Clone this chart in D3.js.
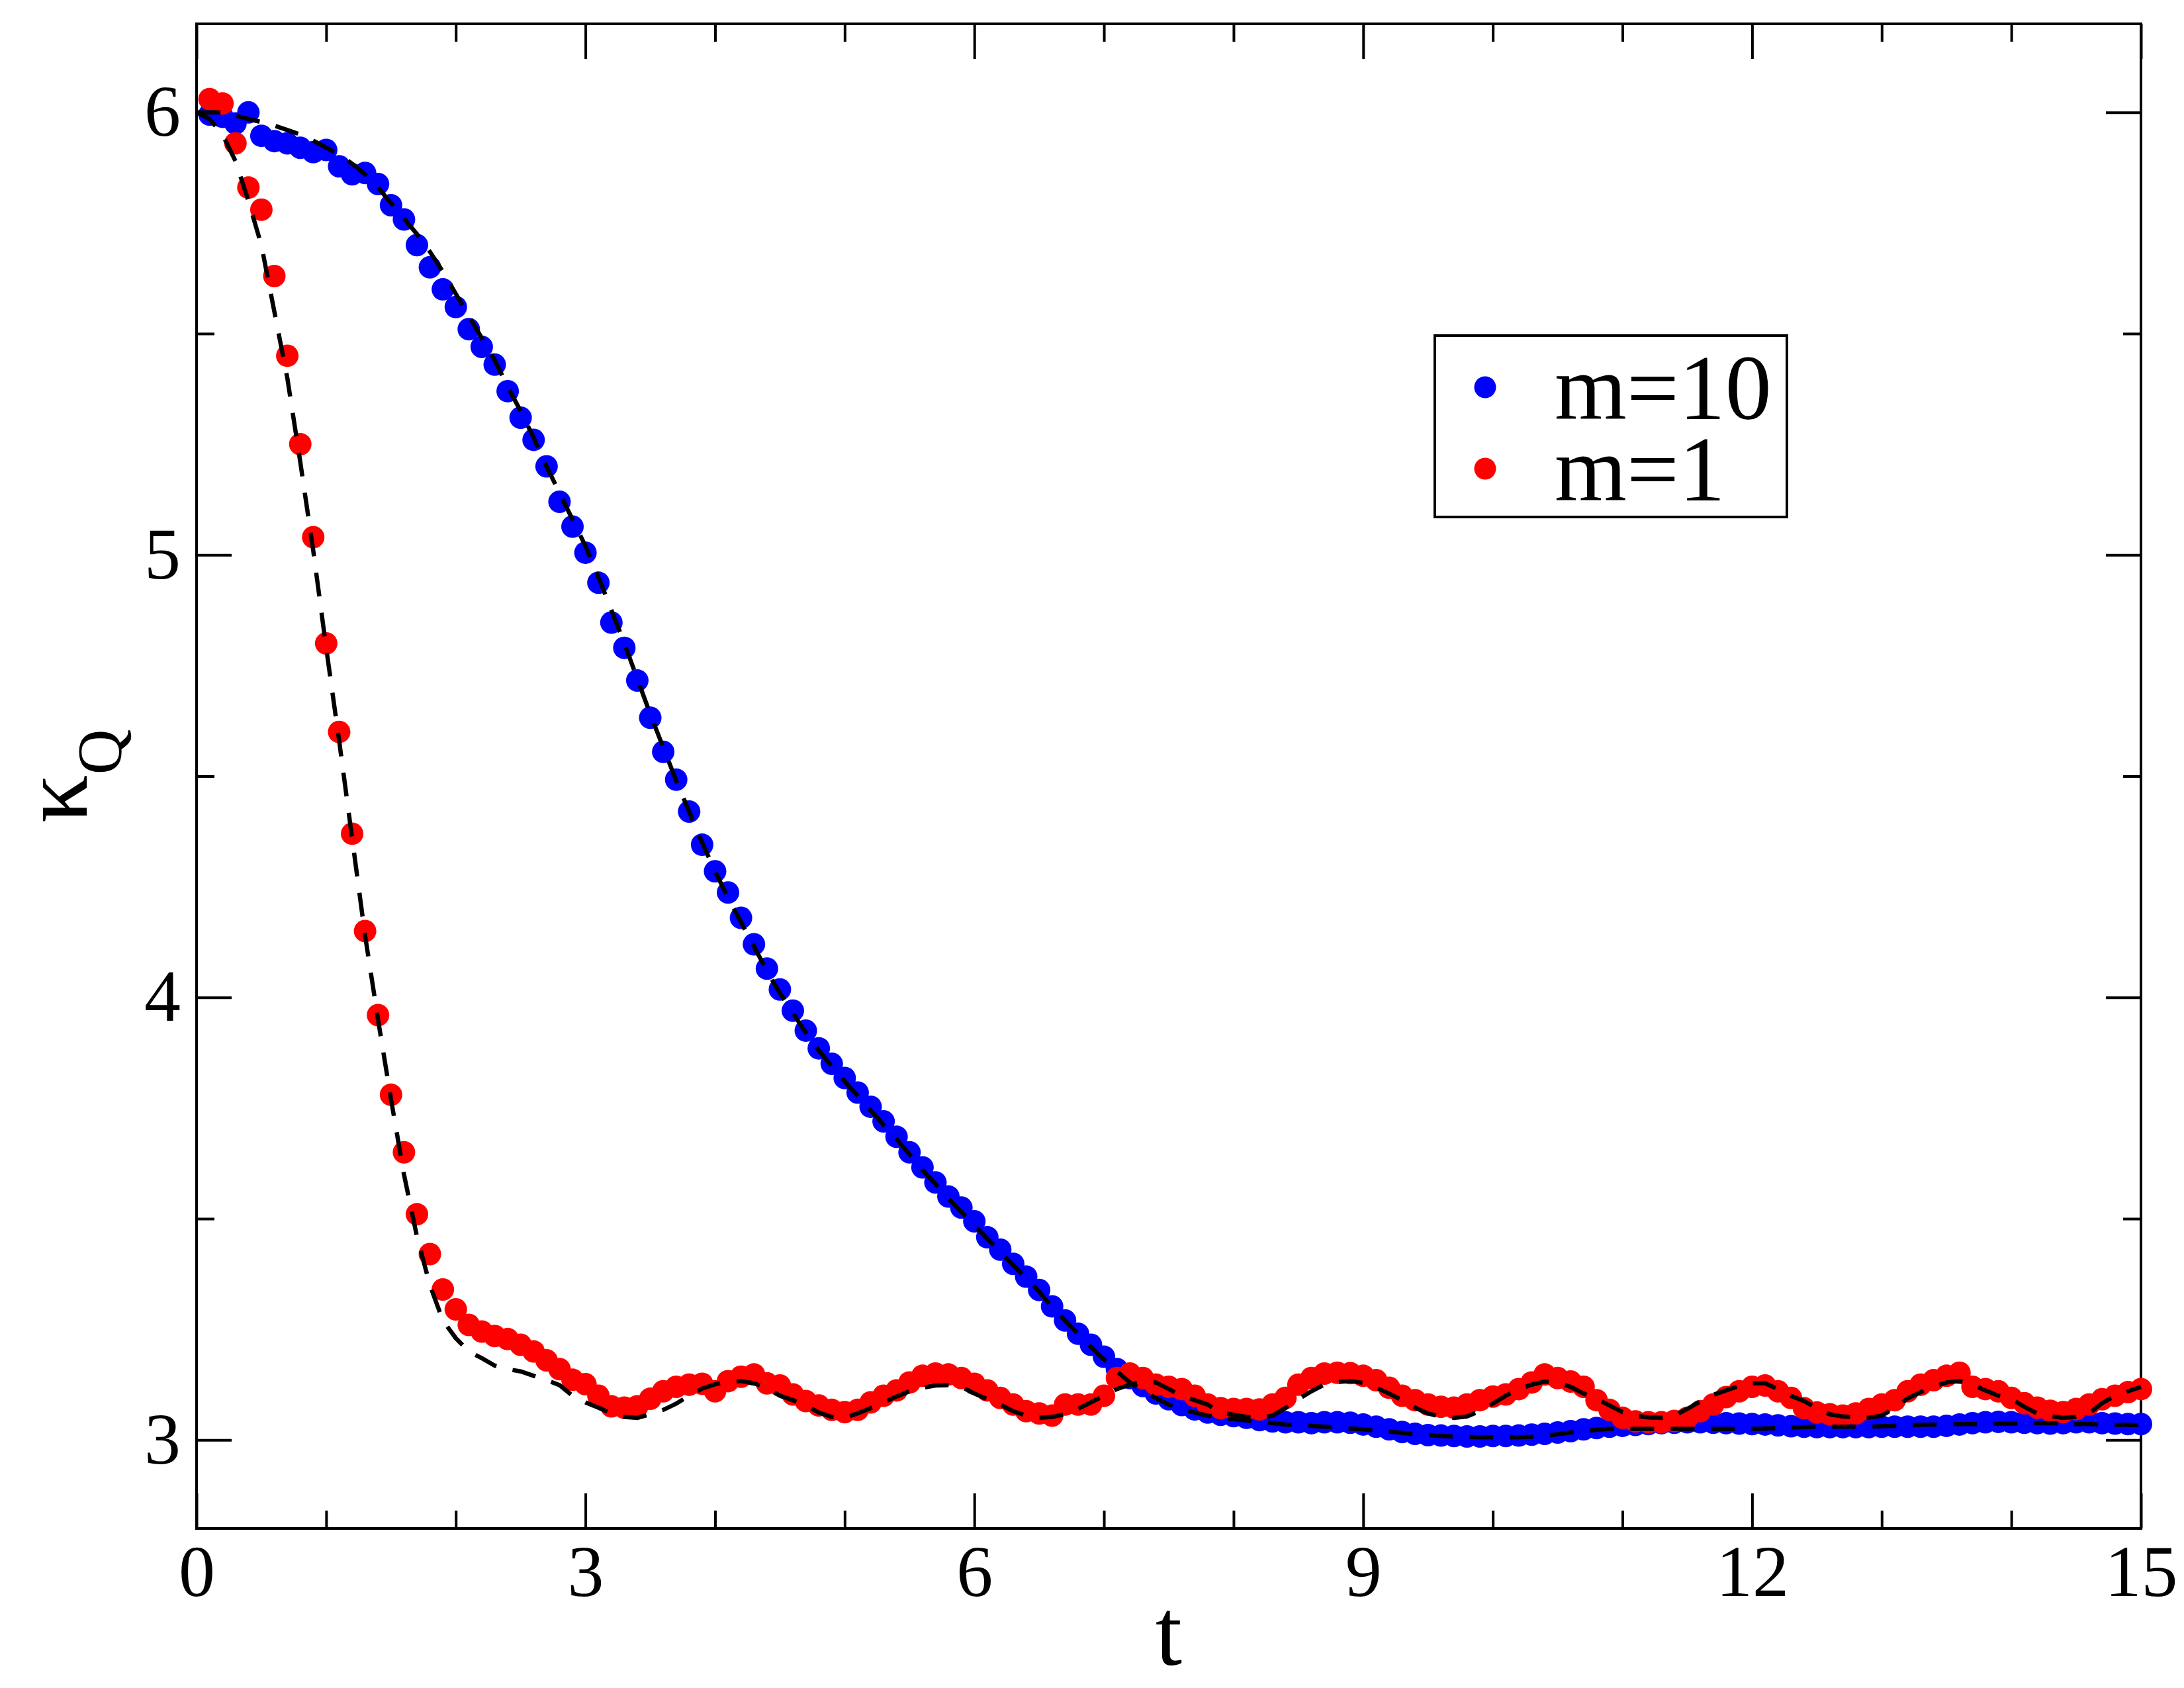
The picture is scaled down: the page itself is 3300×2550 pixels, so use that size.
<!DOCTYPE html>
<html lang="en">
    <head>
        <meta charset="utf-8">
        <title>kappa_Q vs t</title>
        <script src="https://d3js.org/d3.v7.min.js"></script>
        <style type="text/css">
            body {
                margin: 0;
                background: white;
            }
            .ticklabel {
                font-family: "Liberation Serif", "Times New Roman", serif;
                font-size: 110px;
            }
            .axislabel {
                font-family: "Liberation Serif", "Times New Roman", serif;
            }
            .legendtext {
                font-family: "Liberation Serif", "Times New Roman", serif;
                font-size: 140px;
            }
        </style>
    </head>
    <body>
        <svg width="3300" height="2550"></svg>
        <script type="text/javascript">

            // time grid of the dots (t = 0.1 ... 15.0)
            const tDots = [
                0.1, 0.2, 0.3, 0.4, 0.5, 0.6, 0.7, 0.8, 0.9, 1.0,
                1.1, 1.2, 1.3, 1.4, 1.5, 1.6, 1.7, 1.8, 1.9, 2.0,
                2.1, 2.2, 2.3, 2.4, 2.5, 2.6, 2.7, 2.8, 2.9, 3.0,
                3.1, 3.2, 3.3, 3.4, 3.5, 3.6, 3.7, 3.8, 3.9, 4.0,
                4.1, 4.2, 4.3, 4.4, 4.5, 4.6, 4.7, 4.8, 4.9, 5.0,
                5.1, 5.2, 5.3, 5.4, 5.5, 5.6, 5.7, 5.8, 5.9, 6.0,
                6.1, 6.2, 6.3, 6.4, 6.5, 6.6, 6.7, 6.8, 6.9, 7.0,
                7.1, 7.2, 7.3, 7.4, 7.5, 7.6, 7.7, 7.8, 7.9, 8.0,
                8.1, 8.2, 8.3, 8.4, 8.5, 8.6, 8.7, 8.8, 8.9, 9.0,
                9.1, 9.2, 9.3, 9.4, 9.5, 9.6, 9.7, 9.8, 9.9, 10.0,
                10.1, 10.2, 10.3, 10.4, 10.5, 10.6, 10.7, 10.8, 10.9, 11.0,
                11.1, 11.2, 11.3, 11.4, 11.5, 11.6, 11.7, 11.8, 11.9, 12.0,
                12.1, 12.2, 12.3, 12.4, 12.5, 12.6, 12.7, 12.8, 12.9, 13.0,
                13.1, 13.2, 13.3, 13.4, 13.5, 13.6, 13.7, 13.8, 13.9, 14.0,
                14.1, 14.2, 14.3, 14.4, 14.5, 14.6, 14.7, 14.8, 14.9, 15.0];

            // m=10 (blue dots)
            const m10 = [
                5.995, 5.99, 5.975, 6.0, 5.947, 5.935, 5.93, 5.92, 5.91, 5.915,
                5.878, 5.86, 5.863, 5.838, 5.79, 5.758, 5.70, 5.65, 5.60, 5.56,
                5.51, 5.47, 5.43, 5.37, 5.31, 5.26, 5.20, 5.12, 5.064, 5.005,
                4.937, 4.847, 4.79, 4.716, 4.632, 4.555, 4.492, 4.42, 4.345, 4.285,
                4.237, 4.18, 4.12, 4.065, 4.018, 3.97, 3.925, 3.885, 3.85, 3.818,
                3.785, 3.753, 3.72, 3.685, 3.65, 3.616, 3.582, 3.55, 3.525, 3.494,
                3.458, 3.43, 3.398, 3.369, 3.339, 3.302, 3.27, 3.24, 3.215, 3.188,
                3.16, 3.14, 3.122, 3.105, 3.092, 3.079, 3.069, 3.062, 3.057, 3.054,
                3.05, 3.045, 3.042, 3.04, 3.04, 3.038, 3.04, 3.04, 3.039, 3.035,
                3.03, 3.024, 3.018, 3.014, 3.011, 3.01, 3.009, 3.008, 3.008, 3.009,
                3.009, 3.01, 3.012, 3.014, 3.017, 3.02, 3.024, 3.027, 3.03, 3.032,
                3.034, 3.036, 3.038, 3.039, 3.04, 3.04, 3.039, 3.038, 3.037, 3.036,
                3.035, 3.033, 3.031, 3.03, 3.029, 3.029, 3.029, 3.029, 3.029, 3.03,
                3.03, 3.03, 3.03, 3.03, 3.032, 3.035, 3.038, 3.04, 3.041, 3.04,
                3.039, 3.038, 3.037, 3.038, 3.04, 3.04, 3.038, 3.037, 3.036, 3.036];

            // m=1 (red dots)
            const m1 = [
                6.03, 6.02, 5.93, 5.83, 5.78, 5.63, 5.45, 5.25, 5.04, 4.80,
                4.60, 4.37, 4.15, 3.96, 3.78, 3.65, 3.51, 3.42, 3.34, 3.295,
                3.26, 3.245, 3.235, 3.228, 3.215, 3.20, 3.18, 3.16, 3.136, 3.126,
                3.10, 3.076, 3.073, 3.076, 3.093, 3.11, 3.12, 3.125, 3.127, 3.11,
                3.133, 3.143, 3.148, 3.128, 3.123, 3.103, 3.088, 3.078, 3.068, 3.063,
                3.068, 3.085, 3.10, 3.112, 3.13, 3.145, 3.15, 3.148, 3.14, 3.127,
                3.112, 3.095, 3.08, 3.065, 3.06, 3.055, 3.08, 3.08, 3.08, 3.10,
                3.14, 3.15, 3.14, 3.125, 3.12, 3.115, 3.10, 3.08, 3.072, 3.07,
                3.07, 3.069, 3.08, 3.095, 3.125, 3.14, 3.15, 3.152, 3.151, 3.145,
                3.135, 3.118, 3.10, 3.09, 3.08, 3.075, 3.073, 3.08, 3.09, 3.098,
                3.103, 3.115, 3.13, 3.148, 3.14, 3.132, 3.12, 3.09, 3.068, 3.05,
                3.042, 3.04, 3.04, 3.043, 3.05, 3.065, 3.08, 3.097, 3.11, 3.12,
                3.123, 3.11, 3.095, 3.072, 3.062, 3.058, 3.055, 3.06, 3.07, 3.08,
                3.09, 3.11, 3.125, 3.135, 3.145, 3.152, 3.12, 3.115, 3.11, 3.095,
                3.083, 3.073, 3.066, 3.063, 3.07, 3.08, 3.092, 3.10, 3.108, 3.115];

            // time grid of the dashed fits (t = 0.0 ... 15.0)
            const tFit = [0.0].concat(tDots);

            // dashed curve through m=10
            const fit10 = [
                6.00,
                6.00, 6.00, 5.993, 5.985, 5.978, 5.97, 5.96, 5.95, 5.936, 5.92,
                5.905, 5.884, 5.86, 5.83, 5.795, 5.76, 5.725, 5.685, 5.64, 5.59,
                5.54, 5.49, 5.44, 5.38, 5.325, 5.265, 5.20, 5.14, 5.08, 5.02,
                4.95, 4.875, 4.80, 4.72, 4.64, 4.565, 4.49, 4.42, 4.35, 4.285,
                4.225, 4.17, 4.115, 4.06, 4.01, 3.965, 3.92, 3.88, 3.845, 3.81,
                3.778, 3.745, 3.712, 3.68, 3.645, 3.61, 3.578, 3.545, 3.515, 3.485,
                3.455, 3.425, 3.395, 3.365, 3.335, 3.30, 3.27, 3.24, 3.21, 3.182,
                3.155, 3.13, 3.11, 3.095, 3.08, 3.07, 3.062, 3.055, 3.05, 3.047,
                3.044, 3.042, 3.038, 3.035, 3.033, 3.032, 3.03, 3.028, 3.026, 3.024,
                3.022, 3.019, 3.016, 3.013, 3.011, 3.009, 3.008, 3.007, 3.006, 3.006,
                3.006, 3.006, 3.007, 3.009, 3.013, 3.017, 3.02, 3.023, 3.025, 3.025,
                3.025, 3.025, 3.025, 3.025, 3.025, 3.025, 3.025, 3.025, 3.025, 3.025,
                3.026, 3.027, 3.028, 3.029, 3.03, 3.03, 3.03, 3.03, 3.03, 3.031,
                3.032, 3.033, 3.034, 3.035, 3.036, 3.036, 3.036, 3.036, 3.037, 3.037,
                3.038, 3.038, 3.038, 3.037, 3.036, 3.036, 3.035, 3.034, 3.034, 3.033];

            // dashed curve through m=1
            const fit1 = [
                6.00,
                5.985, 5.95, 5.89, 5.80, 5.70, 5.55, 5.40, 5.21, 5.01, 4.79,
                4.58, 4.36, 4.14, 3.95, 3.77, 3.60, 3.46, 3.35, 3.27, 3.23,
                3.20, 3.185, 3.168, 3.16, 3.155, 3.145, 3.135, 3.124, 3.10, 3.085,
                3.073, 3.06, 3.052, 3.05, 3.058, 3.068, 3.082, 3.10, 3.116, 3.126,
                3.131, 3.133, 3.128, 3.118, 3.10, 3.09, 3.078, 3.062, 3.052, 3.05,
                3.06, 3.072, 3.085, 3.098, 3.11, 3.118, 3.123, 3.124, 3.12, 3.105,
                3.092, 3.08, 3.065, 3.055, 3.05, 3.052, 3.058, 3.07, 3.085, 3.10,
                3.115, 3.125, 3.132, 3.13, 3.115, 3.10, 3.09, 3.08, 3.062, 3.057,
                3.052, 3.05, 3.055, 3.072, 3.092, 3.11, 3.125, 3.131, 3.133, 3.129,
                3.118, 3.105, 3.09, 3.073, 3.06, 3.052, 3.05, 3.053, 3.065, 3.082,
                3.10, 3.115, 3.125, 3.132, 3.13, 3.12, 3.105, 3.093, 3.078, 3.063,
                3.055, 3.051, 3.05, 3.055, 3.07, 3.087, 3.102, 3.112, 3.122, 3.128,
                3.128, 3.115, 3.10, 3.088, 3.072, 3.058, 3.053, 3.051, 3.05, 3.055,
                3.072, 3.094, 3.108, 3.12, 3.13, 3.133, 3.125, 3.112, 3.10, 3.093,
                3.075, 3.06, 3.054, 3.05, 3.052, 3.06, 3.083, 3.10, 3.11, 3.12];

            // ticks
            const xMajor = [0, 3, 6, 9, 12, 15];
            const xMinor = [1, 2, 4, 5, 7, 8, 10, 11, 13, 14];
            const yMajor = [3, 4, 5, 6];
            const yMinor = [3.5, 4.5, 5.5];

            const legendNames = ["m=10", "m=1"];
            const legendColors = ["#0000ff", "#ff0000"];

            const svg = d3.select("svg");
            const plotLeft = 297, plotRight = 3235, plotTop = 36, plotBottom = 2309;

            const x = d3.scaleLinear().domain([0, 15]).range([plotLeft, plotRight]);
            const y = d3.scaleLinear().domain([2.8, 6.2]).range([plotBottom, plotTop]);

            //Frame
            svg.append("rect")
               .attr("x", plotLeft)
               .attr("y", plotTop)
               .attr("width", plotRight - plotLeft)
               .attr("height", plotBottom - plotTop)
               .attr("fill", "none")
               .attr("stroke", "black")
               .attr("stroke-width", 4);

            // axes: labelled major ticks bottom/left, mirrored ticks top/right
            function styleAxis(g) {
                g.select(".domain").remove();
                g.selectAll(".tick line").attr("stroke", "black").attr("stroke-width", 4);
                g.selectAll(".tick text").attr("class", "ticklabel").attr("fill", "black");
                g.attr("font-family", null).attr("font-size", null);
            }

            svg.append("g").attr("transform", "translate(0," + plotBottom + ")")
               .call(d3.axisBottom(x).tickValues(xMajor).tickSize(-53).tickPadding(24).tickFormat(d3.format("d")))
               .call(styleAxis);
            svg.append("g").attr("transform", "translate(0," + plotBottom + ")")
               .call(d3.axisBottom(x).tickValues(xMinor).tickSize(-27).tickFormat(""))
               .call(styleAxis);
            svg.append("g").attr("transform", "translate(0," + plotTop + ")")
               .call(d3.axisTop(x).tickValues(xMajor).tickSize(-53).tickFormat(""))
               .call(styleAxis);
            svg.append("g").attr("transform", "translate(0," + plotTop + ")")
               .call(d3.axisTop(x).tickValues(xMinor).tickSize(-27).tickFormat(""))
               .call(styleAxis);

            svg.append("g").attr("transform", "translate(" + plotLeft + ",0)")
               .call(d3.axisLeft(y).tickValues(yMajor).tickSize(-53).tickPadding(24).tickFormat(d3.format("d")))
               .call(styleAxis);
            svg.append("g").attr("transform", "translate(" + plotLeft + ",0)")
               .call(d3.axisLeft(y).tickValues(yMinor).tickSize(-27).tickFormat(""))
               .call(styleAxis);
            svg.append("g").attr("transform", "translate(" + plotRight + ",0)")
               .call(d3.axisRight(y).tickValues(yMajor).tickSize(-53).tickFormat(""))
               .call(styleAxis);
            svg.append("g").attr("transform", "translate(" + plotRight + ",0)")
               .call(d3.axisRight(y).tickValues(yMinor).tickSize(-27).tickFormat(""))
               .call(styleAxis);

            //Dots (blue first, red on top)
            const series = [
                {values: m10, color: legendColors[0]},
                {values: m1, color: legendColors[1]}
            ];
            series.forEach(s => {
                svg.append("g")
                   .selectAll("circle")
                   .data(s.values)
                   .enter()
                   .append("circle")
                   .attr("cx", (d, i) => x(tDots[i]))
                   .attr("cy", d => y(d))
                   .attr("r", 17)
                   .attr("fill", s.color);
            });

            //Dashed curves
            const line = d3.line()
                           .x((d, i) => x(tFit[i]))
                           .y(d => y(d));
            [fit10, fit1].forEach(f => {
                svg.append("path")
                   .datum(f)
                   .attr("d", line)
                   .attr("fill", "none")
                   .attr("stroke", "black")
                   .attr("stroke-width", 6.5)
                   .attr("stroke-dasharray", "36,25");
            });

            //Axis titles
            svg.append("text")
               .attr("class", "axislabel")
               .attr("x", (plotLeft + plotRight) / 2)
               .attr("y", 2515)
               .attr("text-anchor", "middle")
               .attr("font-size", 145)
               .text("t");

            const ylab = svg.append("text")
               .attr("class", "axislabel")
               .attr("transform", "translate(131," + ((plotTop + plotBottom) / 2) + ") rotate(-90)")
               .attr("text-anchor", "middle")
               .attr("font-size", 145);
            ylab.append("tspan").text("κ");
            ylab.append("tspan").attr("dy", 52).attr("font-size", 95).text("Q");

            //Legend
            svg.append("rect")
               .attr("x", 2168)
               .attr("y", 507)
               .attr("width", 532)
               .attr("height", 274)
               .attr("fill", "white")
               .attr("stroke", "black")
               .attr("stroke-width", 4);

            const legend = svg.selectAll("g.legend")
                              .data(legendNames)
                              .enter()
                              .append("g")
                              .attr("class", "legend")
                              .attr("transform", (d, i) => "translate(0," + (585 + i * 123) + ")");
            legend.append("circle")
                  .attr("cx", 2244)
                  .attr("cy", 0)
                  .attr("r", 16.5)
                  .attr("fill", (d, i) => legendColors[i]);
            legend.append("text")
                  .attr("class", "legendtext")
                  .attr("x", 2349)
                  .attr("y", 48)
                  .text(d => d);

        </script>
    </body>
</html>
